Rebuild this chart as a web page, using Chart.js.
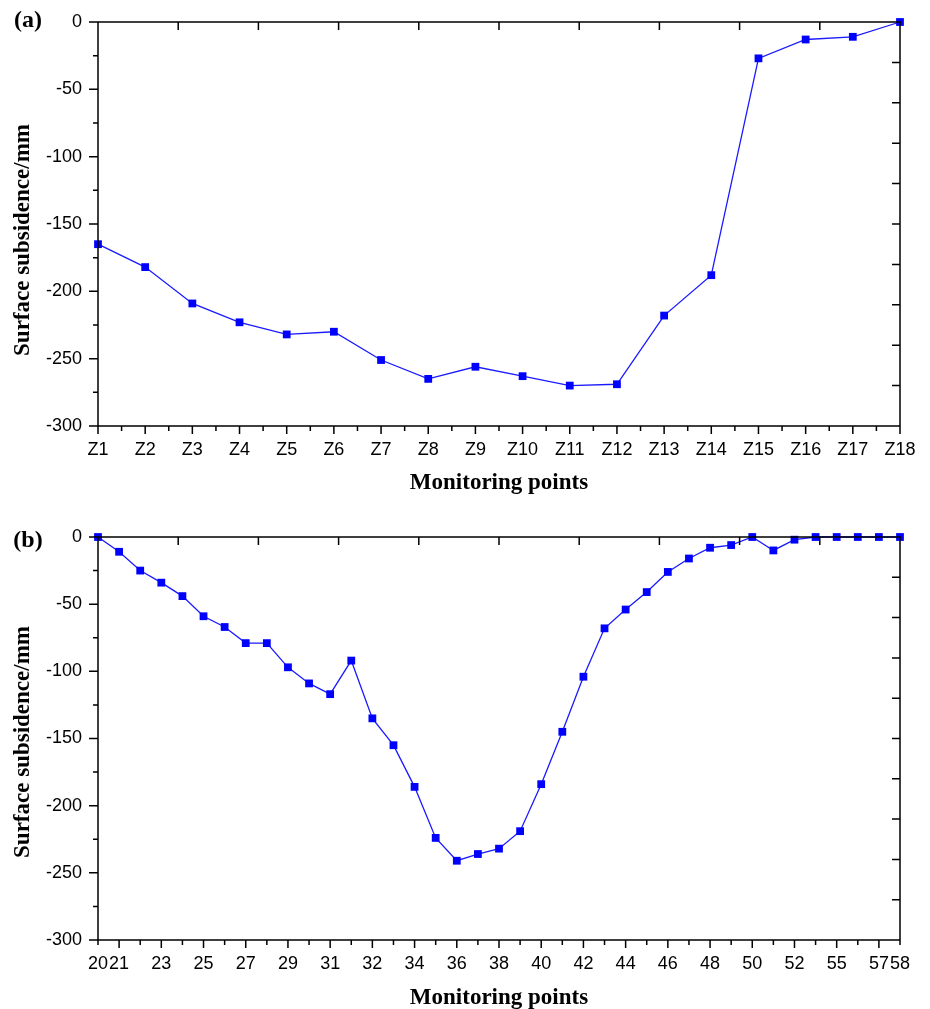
<!DOCTYPE html>
<html>
<head>
<meta charset="utf-8">
<script src="https://cdn.jsdelivr.net/npm/chart.js@4"></script>
<style>
  body { margin: 0; background: #fff; }
  .panel { position: absolute; left: 0; width: 930px; }
  #wrapA { top: -10px; height: 515px; }
  #wrapB { top: 505px; height: 504px; }
</style>
</head>
<body>
<div class="panel" id="wrapA"><canvas id="chartA"></canvas></div>
<div class="panel" id="wrapB"><canvas id="chartB"></canvas></div>
<script>
const pointsA = ['Z1', 'Z2', 'Z3', 'Z4', 'Z5', 'Z6', 'Z7', 'Z8', 'Z9', 'Z10', 'Z11', 'Z12', 'Z13', 'Z14', 'Z15', 'Z16', 'Z17', 'Z18']
const subsidenceA = [-165, -182, -209, -223, -232, -230, -251, -265, -256, -263, -270, -269, -218, -188, -27, -13, -11, 0]

const pointsB = ['20', '21', '22', '23', '24', '25', '26', '27', '28', '29', '30', '31', "31'", '32', '33', '34', '35', '36', '37', '38',
  '39', '40', '41', '42', '43', '44', '45', '46', '47', '48', '49', '50', '51', '52', '53', '55', '56', '57', '58']
const subsidenceB = [0, -11, -25, -34, -44, -59, -67, -79, -79, -97, -109, -117, -92, -135, -155, -186, -224, -241, -236, -232,
  -219, -184, -145, -104, -68, -54, -41, -26, -16, -8, -6, 0, -10, -2, 0, 0, 0, 0, 0]
const tickLabelsB = ['20', '21', '23', '25', '27', '29', '31', '32', '34', '36', '38', '40', '42', '44', '46', '48', '50', '52', '55', '57', '58']

const yTicks = [-300, -250, -200, -150, -100, -50, 0]

const lineColor = '#1a1aff'
const markColor = '#0000ff'
const tickFont = { family: 'Liberation Sans', size: 18 }

// ticks, frame and texts
const framePlugin = (cfg) => ({
  id: 'frame',
  afterDraw(chart) {
    const ctx = chart.ctx
    const { left, right, top, bottom } = chart.chartArea
    const xs = chart.scales.x
    const ys = chart.scales.y
    ctx.save()
    ctx.strokeStyle = '#000'
    ctx.lineWidth = 1.5
    ctx.beginPath()
    ctx.rect(left, top, right - left, bottom - top)

    // left axis, outward
    for (let v = -300; v <= 0; v += 25) {
      const y = ys.getPixelForValue(v)
      const len = v % 50 === 0 ? 9 : 5
      ctx.moveTo(left, y)
      ctx.lineTo(left - len, y)
    }
    // bottom axis, outward
    for (let i = 0; i <= cfg.lastIndex; i += cfg.step) {
      const x = xs.getPixelForValue(i)
      const len = cfg.isMajor(i) ? 8 : 5
      ctx.moveTo(x, bottom)
      ctx.lineTo(x, bottom + len)
    }
    // top and right, inward, 10 divisions
    for (let k = 1; k < 10; k++) {
      const x = left + (right - left) * k / 10
      ctx.moveTo(x, top)
      ctx.lineTo(x, top + 8)
      const y = top + (bottom - top) * k / 10
      ctx.moveTo(right, y)
      ctx.lineTo(right - 8, y)
    }
    ctx.stroke()

    ctx.fillStyle = '#000'
    ctx.font = 'bold 24px "Liberation Serif"'
    ctx.textAlign = 'center'
    ctx.textBaseline = 'middle'
    ctx.fillText(cfg.tag, 28, cfg.tagY)

    ctx.font = 'bold 23px "Liberation Serif"'
    ctx.textBaseline = 'alphabetic'
    ctx.fillText('Monitoring points', (left + right) / 2, cfg.xTitleY)

    ctx.translate(29, cfg.yTitleY)
    ctx.rotate(-Math.PI / 2)
    ctx.fillText('Surface subsidence/mm', 0, 0)
    ctx.restore()
  }
})

const makeConfig = (labels, data, cfg) => ({
  type: 'line',
  data: {
    labels: labels,
    datasets: [{
      data: data,
      borderColor: lineColor,
      borderWidth: 1.3,
      pointStyle: 'rect',
      pointRadius: 5.5,
      pointBorderWidth: 0,
      pointBackgroundColor: markColor,
      tension: 0,
      clip: false
    }]
  },
  options: {
    responsive: true,
    maintainAspectRatio: false,
    animation: false,
    layout: { padding: { top: cfg.padTop, right: 30, left: 0, bottom: 0 } },
    plugins: { legend: { display: false }, tooltip: { enabled: false } },
    scales: {
      x: {
        type: 'category',
        offset: false,
        grid: { display: false, drawTicks: false },
        border: { display: false },
        afterFit: (s) => { s.height = cfg.xHeight },
        ticks: {
          autoSkip: false,
          maxRotation: 0,
          padding: 13,
          color: '#000',
          font: tickFont,
          callback: cfg.xLabel
        }
      },
      y: {
        min: -300,
        max: 0,
        afterFit: (s) => { s.width = 98 },
        afterBuildTicks: (s) => { s.ticks = yTicks.map(v => ({ value: v })) },
        grid: { display: false, drawTicks: false },
        border: { display: false },
        ticks: { padding: 16, color: '#000', font: tickFont }
      }
    }
  },
  plugins: [framePlugin(cfg)]
})

new Chart(document.getElementById('chartA'), makeConfig(pointsA, subsidenceA, {
  padTop: 32,
  xHeight: 79,
  lastIndex: pointsA.length - 1,
  step: 0.5,
  isMajor: (i) => Number.isInteger(i),
  xLabel: (v, i) => pointsA[i],
  tag: '(a)',
  tagY: 31,
  xTitleY: 499,
  yTitleY: 250
}))

new Chart(document.getElementById('chartB'), makeConfig(pointsB, subsidenceB, {
  padTop: 32,
  xHeight: 69,
  lastIndex: pointsB.length - 1,
  step: 1,
  isMajor: (i) => i % 2 === 1,
  xLabel: (v, i) => tickLabelsB.includes(pointsB[i]) ? pointsB[i] : '',
  tag: '(b)',
  tagY: 36,
  xTitleY: 499,
  yTitleY: 237
}))
</script>
</body>
</html>
